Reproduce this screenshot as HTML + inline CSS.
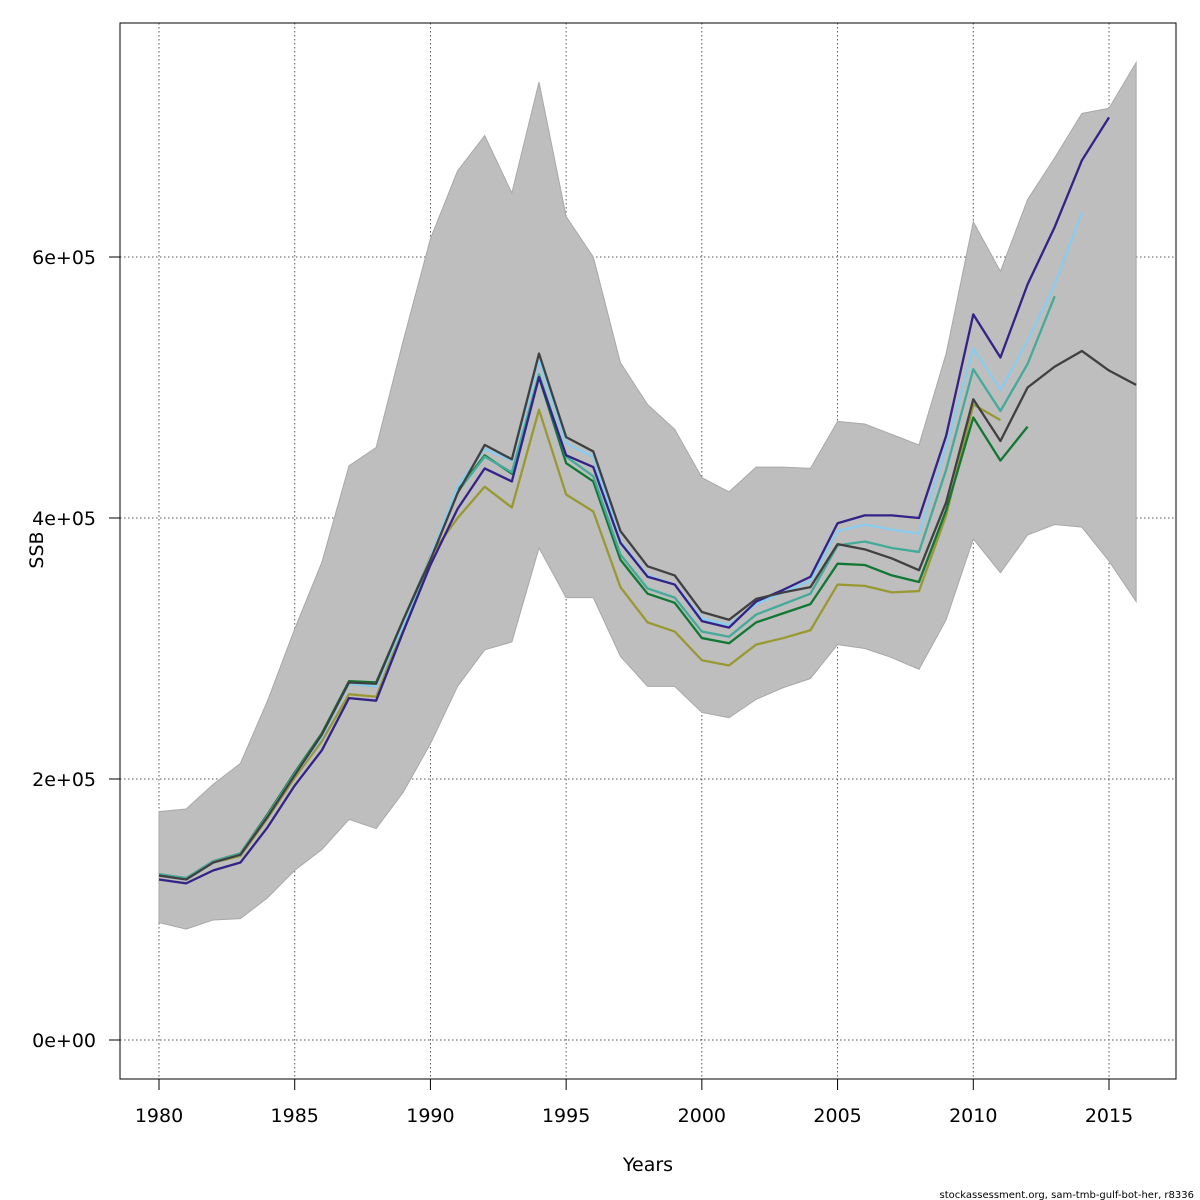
<!DOCTYPE html>
<html><head><meta charset="utf-8"><style>
body{margin:0;background:#fff;}
svg{display:block;font-family:"DejaVu Sans","Liberation Sans",sans-serif;}
</style></head><body>
<svg id="chart" width="1200" height="1200" viewBox="0 0 1200 1200" xmlns="http://www.w3.org/2000/svg">
<rect width="1200" height="1200" fill="#fff"/>
<g id="grid"></g>
<g id="band"></g>
<g id="lines"></g>
<rect x="120" y="23" width="1056" height="1056" fill="none" stroke="#000" stroke-width="1"/>
<g id="axes"></g>
<text x="648" y="1171" font-size="19" text-anchor="middle">Years</text>
<text transform="translate(43,550) rotate(-90)" font-size="19" text-anchor="middle">SSB</text>
<text x="1194" y="1198" font-size="10" text-anchor="end">stockassessment.org, sam-tmb-gulf-bot-her, r8336</text>
</svg>
<script>
const years = [1980,1981,1982,1983,1984,1985,1986,1987,1988,1989,1990,1991,1992,1993,1994,1995,1996,1997,1998,1999,2000,2001,2002,2003,2004,2005,2006,2007,2008,2009,2010,2011,2012,2013,2014,2015,2016];
// values in thousands of tonnes
const upper = [175,177,196,212,260,315,366,440,454,536,614,666,693,649,734,631,600,519,487,468,431,420,439,439,438,474,472,464,456,526,627,589,644,676,710,714,749];
const lower = [90,85,92,93,109,130,146,169,162,190,227,271,299,305,377,339,339,294,271,271,251,247,261,270,277,303,300,293,284,322,384,358,387,395,393,367,336];
const sBlack = [126,123,136,142,171,203,234,274,273,322,368,419,456,445,526,462,451,390,363,356,328,322,338,343,347,380,376,369,360,412,491,459,500,516,528,513,502];
const sNavy = [123,120,130,136,163,195,222,262,260,313,364,407,438,428,508,448,439,381,355,349,321,316,336,345,355,396,402,402,400,463,556,523,579,623,674,707];
const sLightBlue = [126,123,136,142,171,203,232,273,271,318,370,424,453,444,521,457,447,382,356,349,323,318,334,343,352,390,395,391,388,454,530,498,536,579,634];
const sTeal = [127,124,137,143,172,204,234,273,271,318,368,420,447,435,510,447,432,372,346,339,313,309,326,334,342,379,382,377,374,437,514,482,518,570];
const sGreen = [127,124,137,143,173,205,235,275,274,322,369,421,448,434,508,442,428,368,342,335,308,304,320,327,334,365,364,356,351,406,477,444,470];
const sOlive = [126,124,136,141,170,201,229,265,263,316,371,400,424,408,483,418,405,347,320,313,291,287,303,308,314,349,348,343,344,402,487,475];
const xTicks = [1980,1985,1990,1995,2000,2005,2010,2015];
const yTicks = [0,200,400,600];
const yTickLabels = ["0e+00","2e+05","4e+05","6e+05"];

const NS="http://www.w3.org/2000/svg";
const X = y => 159 + (y-1980)*(1109-159)/35;
const Y = v => 1040 - v*261/200;
function mk(tag, attrs, parent){const e=document.createElementNS(NS,tag);for(const k in attrs)e.setAttribute(k,attrs[k]);parent.appendChild(e);return e;}
const grid=document.getElementById('grid'), band=document.getElementById('band'), lines=document.getElementById('lines'), axes=document.getElementById('axes');

xTicks.forEach(t=>{
  const l=mk('line',{x1:X(t),x2:X(t),y1:23,y2:1079,stroke:'#555','stroke-dasharray':'1.5,2.5','stroke-width':1},grid);
  
  
  const tk=mk('line',{x1:X(t),x2:X(t),y1:1079,y2:1090,stroke:'#000'},axes);
  
  
  const tx=mk('text',{x:X(t),y:1122,'font-size':19,'text-anchor':'middle'},axes);
  tx.textContent=t;
  
  
});
yTicks.forEach((t,i)=>{
  const l=mk('line',{x1:120,x2:1176,y1:Y(t),y2:Y(t),stroke:'#555','stroke-dasharray':'1.5,2.5','stroke-width':1},grid);
  
  
  const tk=mk('line',{x1:109,x2:120,y1:Y(t),y2:Y(t),stroke:'#000'},axes);
  
  
  const tx=mk('text',{x:96,y:Y(t)+7,'font-size':19,'text-anchor':'end'},axes);
  tx.textContent=yTickLabels[i];
  
  
});
const xl=mk('line',{x1:X(1980),x2:X(2015),y1:1079,y2:1079,stroke:'#000'},axes);



let pts=years.map((y,i)=>X(y)+','+Y(upper[i]));
for(let i=years.length-1;i>=0;i--) pts.push(X(years[i])+','+Y(lower[i]));
const poly=mk('polygon',{points:pts.join(' '),fill:'#bebebe',stroke:'#a8a8a8','stroke-width':1},band);



const series=[[sOlive,'#999933','series-olive'],[sGreen,'#117733','series-green'],[sTeal,'#44aa99','series-teal'],[sLightBlue,'#88ccee','series-lightblue'],[sNavy,'#332288','series-navy'],[sBlack,'#404040','series-estimate']];
series.forEach(([d,c,n])=>{
  const p=mk('polyline',{points:d.map((v,i)=>X(years[i])+','+Y(v)).join(' '),fill:'none',stroke:c,'stroke-width':2.3,'stroke-linejoin':'round'},lines);
  
  
});
</script>
</body></html>
